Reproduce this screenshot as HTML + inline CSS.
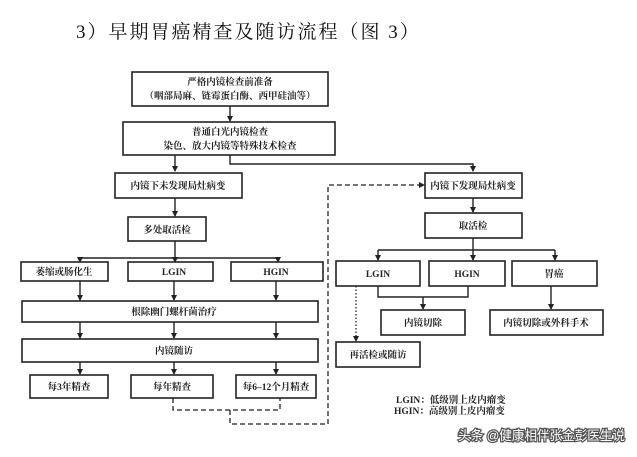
<!DOCTYPE html>
<html><head><meta charset="utf-8"><style>
html,body{margin:0;padding:0;background:#fff;width:637px;height:457px;overflow:hidden}
svg{display:block}
.b{fill:#fff;stroke:#222;stroke-width:1.6}
.t{font-family:"Liberation Serif","Noto Serif CJK SC",serif;font-size:9.5px;font-weight:bold;fill:#222;text-anchor:middle}
.l{stroke:#222;stroke-width:1.4;fill:none}
.d{stroke:#222;stroke-width:1.3;fill:none;stroke-dasharray:5,3}
</style></head><body>
<svg width="637" height="457" viewBox="0 0 637 457">
<defs><marker id="a" markerWidth="6" markerHeight="6" refX="5" refY="3" orient="auto" markerUnits="userSpaceOnUse"><path d="M0,0L6,3L0,6z" fill="#222"/></marker></defs>
<text x="76" y="38" font-family="Liberation Serif,'Noto Serif CJK SC',serif" font-size="19" letter-spacing="2" fill="#111">3）早期胃癌精查及随访流程（图 3）</text>

<rect class="b" x="132" y="72" width="196" height="34"/>
<text class="t" x="230" y="85">严格内镜检查前准备</text>
<text class="t" x="230" y="99">（咽部局麻、链霉蛋白酶、西甲硅油等）</text>
<line class="l" x1="230" y1="106" x2="230" y2="121" marker-end="url(#a)"/>
<rect class="b" x="123" y="122" width="212" height="33"/>
<text class="t" x="230" y="135">普通白光内镜检查</text>
<text class="t" x="230" y="149">染色、放大内镜等特殊技术检查</text>
<polyline class="l" points="230,155 230,164 473,164 473,171" marker-end="url(#a)"/>
<line class="l" x1="175" y1="155" x2="175" y2="171" marker-end="url(#a)"/>
<rect class="b" x="115" y="173" width="127" height="25"/>
<text class="t" x="178" y="189">内镜下未发现局灶病变</text>
<line class="l" x1="175" y1="198" x2="175" y2="216" marker-end="url(#a)"/>
<rect class="b" x="128" y="217" width="78" height="24"/>
<text class="t" x="167" y="233">多处取活检</text>
<polyline class="l" points="175,241 175,258"/>
<polyline class="l" points="80,261 80,258 278,258 278,261"/>
<line class="l" x1="80" y1="258" x2="80" y2="262" marker-end="url(#a)"/>
<line class="l" x1="175" y1="258" x2="175" y2="262" marker-end="url(#a)"/>
<line class="l" x1="278" y1="258" x2="278" y2="262" marker-end="url(#a)"/>
<rect class="b" x="21" y="262" width="87" height="19"/><text class="t" x="64" y="275">萎缩或肠化生</text>
<rect class="b" x="128" y="262" width="85" height="19"/><text class="t" x="174" y="275">LGIN</text>
<rect class="b" x="231" y="262" width="92" height="19"/><text class="t" x="276" y="275">HGIN</text>
<line class="l" x1="80" y1="281" x2="80" y2="300" marker-end="url(#a)"/>
<line class="l" x1="174" y1="281" x2="174" y2="300" marker-end="url(#a)"/>
<line class="l" x1="276" y1="281" x2="276" y2="300" marker-end="url(#a)"/>
<rect class="b" x="22" y="301" width="296" height="21"/><text class="t" x="174" y="315">根除幽门螺杆菌治疗</text>
<line class="l" x1="80" y1="322" x2="80" y2="338" marker-end="url(#a)"/>
<line class="l" x1="174" y1="322" x2="174" y2="338" marker-end="url(#a)"/>
<line class="l" x1="276" y1="322" x2="276" y2="338" marker-end="url(#a)"/>
<rect class="b" x="22" y="339" width="296" height="23"/><text class="t" x="174" y="354">内镜随访</text>
<line class="l" x1="80" y1="362" x2="80" y2="374" marker-end="url(#a)"/>
<line class="l" x1="174" y1="362" x2="174" y2="374" marker-end="url(#a)"/>
<line class="l" x1="276" y1="362" x2="276" y2="374" marker-end="url(#a)"/>
<rect class="b" x="30" y="375" width="78" height="23"/><text class="t" x="69" y="390">每3年精查</text>
<rect class="b" x="131" y="375" width="82" height="23"/><text class="t" x="172" y="390">每年精查</text>
<rect class="b" x="236" y="375" width="80" height="23"/><text class="t" x="276" y="390">每6–12个月精查</text>
<polyline class="d" points="173,398 173,410 280,410 280,398"/>
<polyline class="d" points="230,410 230,424 328,424 328,185 424,185" marker-end="url(#a)"/>

<rect class="b" x="425" y="173" width="97" height="25"/><text class="t" x="473" y="189">内镜下发现局灶病变</text>
<line class="l" x1="473" y1="198" x2="473" y2="212" marker-end="url(#a)"/>
<rect class="b" x="425" y="213" width="97" height="25"/><text class="t" x="473" y="229">取活检</text>
<line class="l" x1="473" y1="238" x2="473" y2="250"/>
<polyline class="l" points="378,250 555,250"/>
<line class="l" x1="378" y1="250" x2="378" y2="260" marker-end="url(#a)"/>
<line class="l" x1="473" y1="250" x2="473" y2="260" marker-end="url(#a)"/>
<line class="l" x1="555" y1="250" x2="555" y2="260" marker-end="url(#a)"/>
<rect class="b" x="336" y="261" width="84" height="25"/><text class="t" x="378" y="277">LGIN</text>
<rect class="b" x="429" y="261" width="76" height="25"/><text class="t" x="467" y="277">HGIN</text>
<rect class="b" x="512" y="261" width="85" height="25"/><text class="t" x="554" y="277">胃癌</text>
<polyline class="l" points="378,286 378,297 468,297 468,286"/>
<line class="l" x1="423" y1="297" x2="423" y2="309" marker-end="url(#a)"/>
<rect class="b" x="381" y="310" width="84" height="25"/><text class="t" x="423" y="326">内镜切除</text>
<line class="l" x1="551" y1="286" x2="551" y2="309" marker-end="url(#a)"/>
<rect class="b" x="490" y="310" width="113" height="25"/><text class="t" x="546" y="326">内镜切除或外科手术</text>
<line x1="356" y1="286" x2="356" y2="341" stroke="#222" stroke-width="1.3" stroke-dasharray="1.5,2" marker-end="url(#a)"/>
<rect class="b" x="336" y="342" width="84" height="25"/><text class="t" x="378" y="358">再活检或随访</text>
<text class="t" x="396" y="403" style="text-anchor:start">LGIN：低级别上皮内瘤变</text>
<text class="t" x="394" y="414" style="text-anchor:start">HGIN：高级别上皮内瘤变</text>
<text x="458" y="440" textLength="167" lengthAdjust="spacingAndGlyphs" font-family="Liberation Sans,'Noto Sans CJK SC',sans-serif" font-size="13" fill="#fff" stroke="#555" stroke-width="2.5" paint-order="stroke">头条 @健康相伴张金彭医生说</text>
</svg>
</body></html>
